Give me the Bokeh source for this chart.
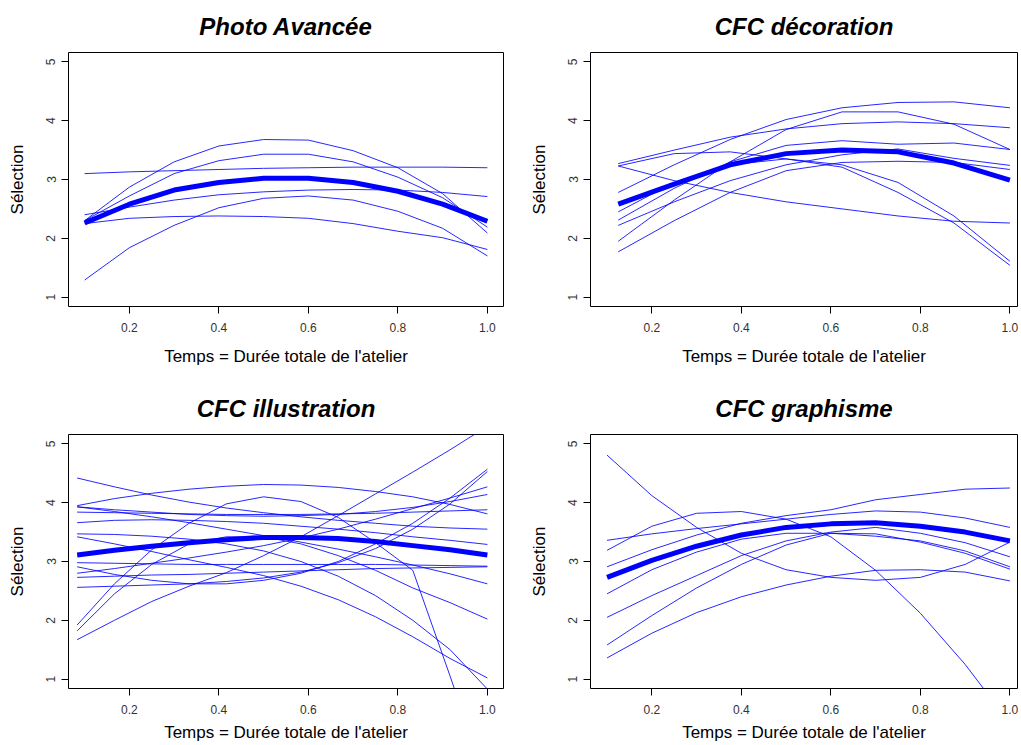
from bokeh.plotting import figure
from bokeh.layouts import gridplot
from bokeh.models import Range1d, FixedTicker, PrintfTickFormatter
from bokeh.embed import file_html
from bokeh.resources import INLINE

# ---------------- data ----------------
titles = ["Photo Avancée", "CFC décoration", "CFC illustration", "CFC graphisme"]
x_label = "Temps = Durée totale de l'atelier"
y_label = "Sélection"
x_ticks = [0.2, 0.4, 0.6, 0.8, 1.0]
y_ticks = [1, 2, 3, 4, 5]

# Photo Avancée : 10 time points
t_photo = [0.1, 0.2, 0.3, 0.4, 0.5, 0.6, 0.7, 0.8, 0.9, 1.0]
photo_mean = [2.26, 2.58, 2.82, 2.95, 3.02, 3.02, 2.95, 2.80, 2.58, 2.29]
photo_ind = [
    [2.30, 2.87, 3.30, 3.57, 3.68, 3.67, 3.49, 3.20, 2.76, 2.09],
    [2.30, 2.72, 3.10, 3.32, 3.43, 3.43, 3.30, 3.04, 2.69, 2.19],
    [3.10, 3.13, 3.15, 3.17, 3.19, 3.20, 3.21, 3.21, 3.21, 3.20],
    [2.40, 2.53, 2.65, 2.74, 2.79, 2.82, 2.83, 2.82, 2.78, 2.71],
    [2.25, 2.34, 2.37, 2.38, 2.37, 2.34, 2.25, 2.12, 2.01, 1.81],
    [1.29, 1.84, 2.22, 2.52, 2.68, 2.72, 2.65, 2.46, 2.17, 1.70],
]

# CFC décoration : 8 time points
t_deco = [0.125, 0.25, 0.375, 0.5, 0.625, 0.75, 0.875, 1.0]
deco_mean = [2.58, 2.92, 3.25, 3.44, 3.50, 3.47, 3.28, 2.99]
deco_ind = [
    [2.78, 3.25, 3.68, 4.02, 4.22, 4.31, 4.32, 4.22],
    [3.27, 3.50, 3.72, 3.86, 3.95, 3.98, 3.95, 3.88],
    [1.95, 2.65, 3.30, 3.85, 4.15, 4.15, 3.94, 3.51],
    [3.23, 2.98, 2.78, 2.62, 2.50, 2.38, 2.29, 2.26],
    [3.23, 3.44, 3.47, 3.35, 3.25, 2.95, 2.38, 1.61],
    [2.45, 2.95, 3.25, 3.35, 3.21, 2.78, 2.26, 1.54],
    [2.31, 2.85, 3.30, 3.58, 3.66, 3.60, 3.62, 3.51],
    [2.22, 2.62, 2.98, 3.25, 3.42, 3.52, 3.36, 3.24],
    [1.77, 2.30, 2.78, 3.15, 3.29, 3.31, 3.29, 3.17],
]

# CFC illustration : 12 time points
t_illu = [1/12, 2/12, 3/12, 4/12, 5/12, 6/12, 7/12, 8/12, 9/12, 10/12, 11/12, 1.0]
illu_mean = [3.11, 3.19, 3.26, 3.32, 3.37, 3.41, 3.41, 3.39, 3.34, 3.27, 3.20, 3.11]
illu_ind = [
    [3.95, 4.07, 4.16, 4.23, 4.28, 4.31, 4.30, 4.26, 4.19, 4.10, 3.97, 3.81],
    [4.42, 4.27, 4.13, 4.01, 3.91, 3.83, 3.76, 3.70, 3.65, 3.60, 3.57, 3.55],
    [3.84, 3.83, 3.82, 3.81, 3.80, 3.80, 3.80, 3.81, 3.82, 3.84, 3.86, 3.88],
    [3.93, 3.88, 3.84, 3.80, 3.78, 3.77, 3.78, 3.80, 3.85, 3.92, 4.02, 4.14],
    [3.66, 3.70, 3.71, 3.70, 3.68, 3.65, 3.60, 3.55, 3.49, 3.42, 3.36, 3.29],
    [1.92, 2.62, 3.20, 3.65, 3.98, 4.10, 4.02, 3.75, 3.32, 2.85, 1.05, -0.80],
    [1.82, 2.45, 2.95, 3.30, 3.42, 3.42, 3.30, 3.10, 2.85, 2.55, 2.30, 2.02],
    [2.98, 2.97, 2.96, 2.95, 2.95, 2.95, 2.95, 2.95, 2.95, 2.94, 2.93, 2.92],
    [2.73, 2.75, 2.77, 2.78, 2.80, 2.82, 2.84, 2.86, 2.88, 2.89, 2.90, 2.91],
    [1.67, 2.00, 2.32, 2.58, 2.81, 3.10, 3.42, 3.78, 4.15, 4.52, 4.90, 5.30],
    [3.42, 3.30, 3.17, 3.03, 2.90, 2.76, 2.58, 2.35, 2.06, 1.72, 1.35, 1.02],
    [3.47, 3.46, 3.43, 3.38, 3.30, 3.18, 3.00, 2.75, 2.42, 2.00, 1.50, 0.83],
    [2.91, 2.78, 2.68, 2.62, 2.62, 2.68, 2.80, 3.00, 3.30, 3.65, 4.08, 4.57],
    [2.56, 2.58, 2.60, 2.62, 2.66, 2.72, 2.82, 2.98, 3.22, 3.55, 3.98, 4.53],
    [2.80, 2.88, 2.97, 3.06, 3.16, 3.27, 3.40, 3.55, 3.72, 3.90, 4.08, 4.27],
    [3.93, 3.85, 3.76, 3.66, 3.55, 3.44, 3.33, 3.21, 3.08, 2.94, 2.79, 2.62],
]

# CFC graphisme : 10 time points
t_graph = [0.1, 0.2, 0.3, 0.4, 0.5, 0.6, 0.7, 0.8, 0.9, 1.0]
graph_mean = [2.73, 3.02, 3.26, 3.45, 3.58, 3.64, 3.66, 3.60, 3.50, 3.35]
graph_ind = [
    [4.81, 4.12, 3.58, 3.14, 2.86, 2.73, 2.68, 2.73, 2.95, 3.33],
    [3.19, 3.60, 3.82, 3.85, 3.72, 3.42, 2.85, 2.12, 1.25, 0.25],
    [2.91, 3.20, 3.45, 3.65, 3.78, 3.88, 4.05, 4.14, 4.23, 4.25],
    [3.36, 3.47, 3.56, 3.64, 3.72, 3.80, 3.86, 3.84, 3.74, 3.58],
    [1.36, 1.78, 2.13, 2.40, 2.60, 2.75, 2.85, 2.86, 2.82, 2.67],
    [1.58, 2.08, 2.55, 2.95, 3.28, 3.48, 3.47, 3.33, 3.14, 2.87],
    [2.05, 2.42, 2.76, 3.10, 3.35, 3.50, 3.58, 3.48, 3.32, 3.08],
    [2.45, 2.86, 3.16, 3.38, 3.48, 3.48, 3.43, 3.35, 3.18, 2.91],
]

FONT = "Liberation Sans"
Y_LO, Y_HI = 0.84, 5.16


def make_panel(title, t, mean, ind, xr, width, height, mb, tick_std, lab_std):
    p = figure(width=width, height=height,
               x_range=Range1d(*xr), y_range=Range1d(Y_LO, Y_HI),
               output_backend="svg", toolbar_location=None,
               min_border_left=mb[0], min_border_right=mb[1],
               min_border_top=mb[2], min_border_bottom=mb[3],
               background_fill_color="white", border_fill_color="white")
    p.title.text = title
    p.title.text_font = FONT
    p.title.text_font_style = "bold italic"
    p.title.text_font_size = "24px"
    p.title.align = "center"
    p.title.vertical_align = "top"
    p.title.text_color = "black"
    p.title.standoff = 22
    p.grid.visible = False
    p.outline_line_color = "black"
    p.outline_line_width = 1

    p.xaxis.ticker = FixedTicker(ticks=x_ticks)
    p.yaxis.ticker = FixedTicker(ticks=y_ticks)
    p.xaxis.formatter = PrintfTickFormatter(format="%.1f")
    p.yaxis.formatter = PrintfTickFormatter(format="%d")
    p.yaxis.major_label_orientation = "vertical"
    for ax in (p.xaxis[0], p.yaxis[0]):
        ax.axis_line_color = None
        ax.minor_tick_line_color = None
        ax.major_tick_in = 0
        ax.major_tick_out = 7
        ax.major_tick_line_color = "black"
        ax.major_label_text_font = FONT
        ax.major_label_text_font_size = "12px"
        ax.major_label_text_color = "#333333"
        ax.axis_label_text_font = FONT
        ax.axis_label_text_font_size = "17px"
        ax.axis_label_text_font_style = "normal"
        ax.axis_label_text_color = "black"
    p.xaxis.axis_label = x_label
    p.yaxis.axis_label = y_label
    p.xaxis.major_label_standoff = tick_std
    p.xaxis.axis_label_standoff = lab_std
    p.yaxis.major_label_standoff = 6
    p.yaxis.axis_label_standoff = 17

    for serie in ind:
        p.line(t, serie, line_color="#0000ff", line_width=1, line_alpha=0.85)
    p.line(t, mean, line_color="#0000ff", line_width=5)
    return p


xr_left = (0.064, 1.036)
xr_right = (0.063, 1.017)

p1 = make_panel(titles[0], t_photo, photo_mean, photo_ind, xr_left, 513, 372,
                (68, 10, 52, 66), 9, 12)
p2 = make_panel(titles[1], t_deco, deco_mean, deco_ind, xr_right, 508, 372,
                (77, 4, 52, 66), 9, 12)
p3 = make_panel(titles[2], t_illu, illu_mean, illu_ind, xr_left, 513, 373,
                (68, 10, 62, 57), 9, 6)
p4 = make_panel(titles[3], t_graph, graph_mean, graph_ind, xr_right, 508, 373,
                (77, 4, 62, 57), 9, 6)

grid = gridplot([[p1, p2], [p3, p4]], toolbar_location=None)

open("out.html", "w").write(file_html(grid, INLINE))
